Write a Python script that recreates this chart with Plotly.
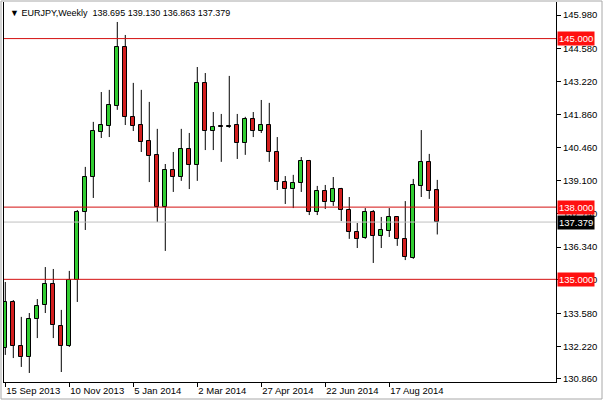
import pandas as pd
import plotly.graph_objects as go

# weekly EURJPY bars
dates = pd.date_range("2013-09-15", periods=55, freq="7D")
opens = [132.15, 134.06, 132.23, 131.77, 133.35, 133.93, 134.81, 133.06, 132.23, 134.97,
         137.80, 139.25, 141.12, 141.37, 142.20, 144.65, 141.75, 141.41, 140.75, 140.17,
         138.01, 139.54, 139.25, 140.42, 139.75, 143.16, 141.16, 141.37, 141.33, 141.41,
         140.66, 141.66, 141.16, 141.41, 140.29, 139.04, 138.75, 139.00, 139.92, 137.80,
         138.67, 138.21, 138.75, 137.88, 136.97, 136.72, 137.80, 136.80, 137.01, 137.59,
         136.68, 135.89, 138.88, 139.88, 138.695]
highs = [134.89, 134.14, 133.44, 133.60, 134.18, 135.51, 135.43, 133.73, 135.35, 137.88,
         139.67, 141.54, 142.78, 142.87, 145.69, 145.15, 143.16, 142.87, 142.37, 141.25,
         139.79, 140.29, 141.25, 141.08, 143.82, 143.57, 141.95, 141.87, 143.45, 141.87,
         141.75, 141.95, 142.45, 142.33, 140.91, 139.29, 139.34, 140.08, 139.96, 138.88,
         138.92, 139.25, 138.80, 138.42, 137.34, 137.96, 137.88, 137.59, 137.96, 137.63,
         138.25, 139.17, 141.20, 140.21, 139.130]
lows = [131.86, 131.73, 131.36, 131.11, 132.56, 133.60, 132.56, 131.15, 132.19, 134.06,
        137.05, 138.38, 140.87, 140.91, 142.04, 141.41, 141.16, 140.29, 139.04, 137.38,
        136.18, 138.63, 139.09, 138.75, 139.09, 140.37, 140.37, 139.88, 141.29, 140.00,
        140.17, 140.91, 141.08, 139.88, 138.71, 138.13, 137.96, 138.63, 137.67, 137.67,
        137.92, 138.05, 137.42, 136.68, 136.30, 136.68, 135.68, 136.30, 136.76, 136.39,
        135.80, 135.85, 138.42, 138.34, 136.863]
closes = [134.06, 132.23, 131.77, 133.35, 133.89, 134.81, 133.10, 132.23, 134.97, 137.80,
          139.25, 141.16, 141.41, 142.24, 144.65, 141.75, 141.37, 140.71, 140.12, 138.01,
          139.54, 139.25, 140.42, 139.75, 143.16, 141.16, 141.33, 141.33, 141.37, 140.66,
          141.66, 141.16, 141.41, 140.29, 139.04, 138.75, 139.00, 139.92, 137.80, 138.67,
          138.21, 138.75, 137.88, 136.97, 136.68, 137.80, 136.80, 137.05, 137.59, 136.68,
          135.93, 138.92, 139.88, 138.67, 137.379]

level_lines = [145.0, 138.0, 135.0]
last_price = 137.379
price_ticks = [130.86, 132.22, 133.58, 134.98, 136.34, 137.74, 139.10, 140.46, 141.86,
               143.22, 144.58, 145.98]
date_ticks = ["2013-09-15", "2013-11-10", "2014-01-05", "2014-03-02", "2014-04-27",
              "2014-06-22", "2014-08-17"]
date_labels = ["15 Sep 2013", "10 Nov 2013", "5 Jan 2014", "2 Mar 2014", "27 Apr 2014",
               "22 Jun 2014", "17 Aug 2014"]
header = "▼ EURJPY,Weekly  138.695 139.130 136.863 137.379"

UP, DOWN, LINE_RED = "#32cd32", "#d21e1e", "#d41010"
FONT = "Liberation Sans, Arial, sans-serif"
DAY_MS = 86400000

# wicks drawn as two stubs so they never cross the bodies
wx, wy = [], []
for d, o, h, l, c in zip(dates, opens, highs, lows, closes):
    top, bot = max(o, c), min(o, c)
    wx += [d, d, None, d, d, None]
    wy += [h, top, None, bot, l, None]

fig = go.Figure()
fig.add_trace(go.Scatter(x=wx, y=wy, mode="lines", line=dict(color="black", width=1),
                         hoverinfo="skip"))
fig.add_trace(go.Bar(
    x=dates,
    base=[min(o, c) for o, c in zip(opens, closes)],
    y=[max(abs(c - o), 0.03) for o, c in zip(opens, closes)],
    width=3.5 * DAY_MS,
    marker=dict(color=[UP if c >= o else DOWN for o, c in zip(opens, closes)],
                line=dict(color="black", width=1)),
))

for lvl in level_lines:
    fig.add_hline(y=lvl, line=dict(color=LINE_RED, width=1))
    fig.add_annotation(x=1, xref="paper", y=lvl, yref="y", text=f"{lvl:.3f}", showarrow=False,
                       xanchor="left", xshift=1, bgcolor="#ff1010", borderpad=1,
                       font=dict(family=FONT, size=9.5, color="white"))
fig.add_hline(y=last_price, line=dict(color="#c0c0c0", width=1))
fig.add_annotation(x=1, xref="paper", y=last_price, yref="y", text=f"{last_price:.3f}",
                   showarrow=False, xanchor="left", xshift=1, bgcolor="black", borderpad=1,
                   font=dict(family=FONT, size=9.5, color="white"))

fig.add_annotation(x=0, xref="paper", y=1, yref="paper", text=header, showarrow=False,
                   xanchor="left", yanchor="top", xshift=4, yshift=-4,
                   font=dict(family=FONT, size=9, color="black"))

# grey window frame round the whole picture (paper units, plot area is 552 x 380 px)
fig.add_shape(type="rect", xref="paper", yref="paper",
              x0=(1 - 4) / 552, x1=(602 - 4) / 552, y0=(382 - 399) / 380, y1=(382 - 1) / 380,
              line=dict(color="#a8a8a8", width=1))

start = dates[0]
fig.update_xaxes(
    type="date",
    range=[start - pd.Timedelta(days=1.14), start + pd.Timedelta(days=481.9)],
    tickvals=date_ticks, ticktext=date_labels, ticklabelposition="outside right",
    ticks="outside", ticklen=4, tickcolor="black", showline=True, linecolor="black",
    linewidth=1, showgrid=False, zeroline=False, rangeslider=dict(visible=False),
    tickfont=dict(family=FONT, size=9.5, color="black"),
)
fig.update_yaxes(
    side="right", range=[130.735, 146.52], tickvals=price_ticks,
    ticktext=[f"{v:.3f}" for v in price_ticks], ticks="outside", ticklen=4,
    tickcolor="black", showline=True, linecolor="black", linewidth=1, mirror=True,
    showgrid=False, zeroline=False, tickfont=dict(family=FONT, size=9.5, color="black"),
)
fig.update_layout(
    width=604, height=402,
    margin=dict(l=4, r=48, t=2, b=20, pad=0, autoexpand=False),
    plot_bgcolor="white", paper_bgcolor="white", showlegend=False, bargap=0,
    hovermode=False,
)
# the page's default body margin would push the chart 8px off the window
fig.write_html("out.html", config={"displayModeBar": False},
               post_script="document.body.style.margin='0';")
